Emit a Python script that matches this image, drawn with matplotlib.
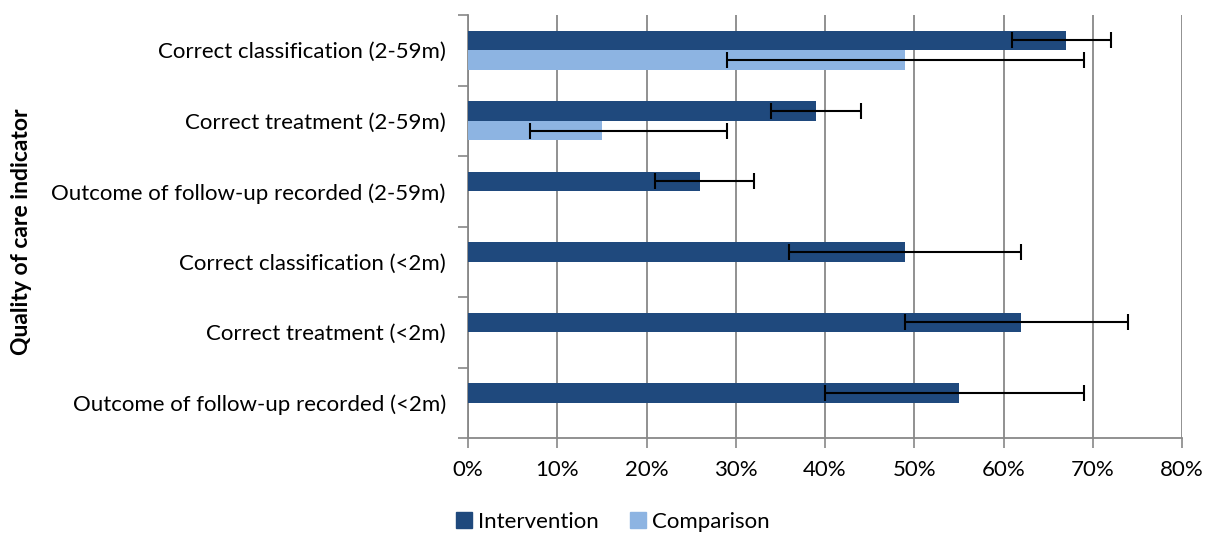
import numpy as np
import matplotlib
matplotlib.use("Agg")
import matplotlib.pyplot as plt
from matplotlib.ticker import PercentFormatter
from matplotlib.patches import Patch

plt.rcParams['font.family'] = ['Lato', 'DejaVu Sans']

# categories, top to bottom
categories = [
    "Correct classification (2-59m)",
    "Correct treatment (2-59m)",
    "Outcome of follow-up recorded (2-59m)",
    "Correct classification (<2m)",
    "Correct treatment (<2m)",
    "Outcome of follow-up recorded (<2m)",
]
intervention = [67, 39, 26, 49, 62, 55]
interv_lo = [61, 34, 21, 36, 49, 40]
interv_hi = [72, 44, 32, 62, 74, 69]

# comparison only exists for the 2-59m treatment / classification rows
comparison = [49, 15, None, None, None, None]
comp_lo = [29, 7, None, None, None, None]
comp_hi = [69, 29, None, None, None, None]

dark = '#1F497D'
light = '#8DB4E2'

fig = plt.figure(figsize=(12.05, 5.35), dpi=100)
ax = fig.add_axes([468/1205, 1 - 438/535, (1182-468)/1205, (438-15)/535])

n = len(categories)
y = np.arange(n)
h = 0.28
off = 0.14

# intervention bars (upper half of each band)
yi = y - off
ax.barh(yi, intervention, height=h, color=dark, zorder=3)
ax.errorbar(intervention, yi,
            xerr=[np.array(intervention) - np.array(interv_lo),
                  np.array(interv_hi) - np.array(intervention)],
            fmt='none', ecolor='black', elinewidth=1.5, capsize=6, capthick=1.5, zorder=4)

# comparison bars
idx = [i for i, v in enumerate(comparison) if v is not None]
cv = np.array([comparison[i] for i in idx])
cl = np.array([comp_lo[i] for i in idx])
ch = np.array([comp_hi[i] for i in idx])
yc = y[idx] + off
ax.barh(yc, cv, height=h, color=light, zorder=3)
ax.errorbar(cv, yc, xerr=[cv - cl, ch - cv],
            fmt='none', ecolor='black', elinewidth=1.5, capsize=6, capthick=1.5, zorder=4)

ax.set_xlim(0, 80)
ax.set_ylim(n - 0.5, -0.5)
ax.set_xticks(np.arange(0, 81, 10))
ax.xaxis.set_major_formatter(PercentFormatter(decimals=0))
ax.set_yticks(y)
ax.set_yticklabels(categories, fontsize=16)
ax.set_yticks(np.arange(-0.5, n, 1), minor=True)
ax.tick_params(axis='y', which='major', length=0, pad=16)
ax.tick_params(axis='y', which='minor', length=7, color='#888888', width=1.2)
ax.tick_params(axis='x', length=7, color='#888888', width=1.2, labelsize=16, pad=9)

ax.xaxis.grid(True, color='#888888', linewidth=1.3, zorder=0)
ax.set_axisbelow(True)
for s in ['top', 'right']:
    ax.spines[s].set_visible(False)
for s in ['left', 'bottom']:
    ax.spines[s].set_color('#888888')
    ax.spines[s].set_linewidth(1.3)

fig.text(22/1205, 1 - 232/535, "Quality of care indicator", rotation=90,
         ha='center', va='center', fontsize=16.5, fontweight='bold')

handles = [Patch(color=dark, label='Intervention'), Patch(color=light, label='Comparison')]
fig.legend(handles=handles, loc='center', bbox_to_anchor=(613/1205, 1 - 522/535), ncol=2,
           frameon=False, fontsize=16, handlelength=0.7, handleheight=0.7,
           handletextpad=0.3, columnspacing=1.4)

fig.savefig('out.png', dpi=100)
